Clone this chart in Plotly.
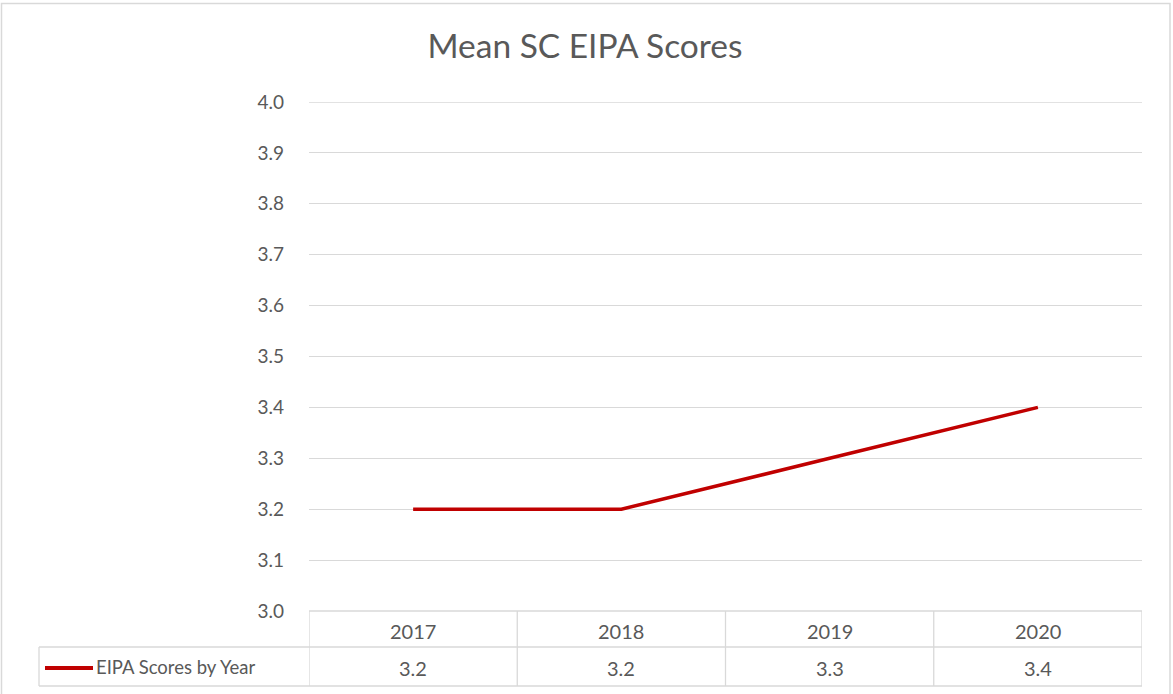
import plotly.graph_objects as go

years = ["2017", "2018", "2019", "2020"]
scores = [3.2, 3.2, 3.3, 3.4]
series_name = "EIPA Scores by Year"
title_text = "Mean SC EIPA Scores"
y_ticks = [3.0, 3.1, 3.2, 3.3, 3.4, 3.5, 3.6, 3.7, 3.8, 3.9, 4.0]

W, H = 1173, 694
L, R, T, B = 309, 31, 102, 83
PW, PH = W - L - R, H - T - B

def px(x):
    return (x - L) / PW

def py(y):
    return (H - B - y) / PH

LINE_RED = "#C00000"
GRID = "#D9D9D9"
TXT = "#595959"
FONT = "Lato"

fig = go.Figure()
fig.add_trace(go.Scatter(
    x=list(range(len(years))), y=scores, mode="lines",
    line=dict(color=LINE_RED, width=3.5), name=series_name,
    showlegend=False, hoverinfo="skip"))

shapes = []
# outer chart border
shapes.append(dict(type="rect", xref="paper", yref="paper",
                   x0=px(1.5), x1=px(1170), y0=py(720), y1=py(3.5),
                   line=dict(color=GRID, width=1.5), layer="below"))
# top gridline (at the axis range end)
shapes.append(dict(type="line", xref="paper", yref="y", x0=0, x1=1,
                   y0=y_ticks[-1], y1=y_ticks[-1], line=dict(color=GRID, width=1.3),
                   layer="below"))
# table horizontal lines
row_top, row_mid, row_bot = 611, 647, 686
shapes.append(dict(type="line", xref="x", yref="paper", x0=-0.5, x1=len(years) - 0.5,
                   y0=py(row_top), y1=py(row_top), line=dict(color=GRID, width=1.3)))
for yy in (row_mid, row_bot):
    shapes.append(dict(type="line", xref="paper", yref="paper", x0=px(39), x1=1,
                       y0=py(yy), y1=py(yy), line=dict(color=GRID, width=1.3)))
# table vertical lines
for i in range(len(years) + 1):
    shapes.append(dict(type="line", xref="x", yref="paper", x0=i - 0.5, x1=i - 0.5,
                       y0=py(row_top), y1=py(row_bot), line=dict(color=GRID, width=1.3)))
shapes.append(dict(type="line", xref="paper", yref="paper", x0=px(39), x1=px(39),
                   y0=py(row_mid), y1=py(row_bot), line=dict(color=GRID, width=1.3)))
# legend key line
shapes.append(dict(type="line", xref="paper", yref="paper", x0=px(45), x1=px(93),
                   y0=py(668), y1=py(668), line=dict(color=LINE_RED, width=4)))

annotations = []
for i, yr in enumerate(years):
    annotations.append(dict(x=i, y=py(631), xref="x", yref="paper", text=yr,
                            xanchor="center", yanchor="middle",
                            showarrow=False, font=dict(family=FONT, size=20, color=TXT)))
    annotations.append(dict(x=i, y=py(668), xref="x", yref="paper", text=f"{scores[i]:.1f}",
                            xanchor="center", yanchor="middle",
                            showarrow=False, font=dict(family=FONT, size=20, color=TXT)))
annotations.append(dict(x=px(94), y=py(667), xref="paper", yref="paper", text=series_name,
                        xanchor="left", yanchor="middle", showarrow=False,
                        font=dict(family=FONT, size=18.5, color=TXT)))

fig.update_layout(
    width=W, height=H,
    margin=dict(l=L, r=R, t=T, b=B, autoexpand=False),
    paper_bgcolor="white", plot_bgcolor="white",
    title=dict(text=title_text, x=(428 + 742) / 2 / W, xanchor="center",
               y=1 - 46 / H, yanchor="middle",
               font=dict(family=FONT, size=33.5, color=TXT)),
    xaxis=dict(range=[-0.5, len(years) - 0.5], showticklabels=False, showgrid=False,
               zeroline=False, showline=False, fixedrange=True),
    yaxis=dict(range=[3.0, 4.0], tickvals=y_ticks, ticktext=[f"{v:.1f}" for v in y_ticks],
               showgrid=True, gridcolor=GRID, gridwidth=1.3, zeroline=False, showline=False,
               ticks="", ticklabelstandoff=24, fixedrange=True,
               tickfont=dict(family=FONT, size=19, color=TXT)),
    shapes=shapes, annotations=annotations,
    showlegend=False,
)

fig.write_html("out.html", config={"displayModeBar": False},
               post_script="document.body.style.margin='0';")
